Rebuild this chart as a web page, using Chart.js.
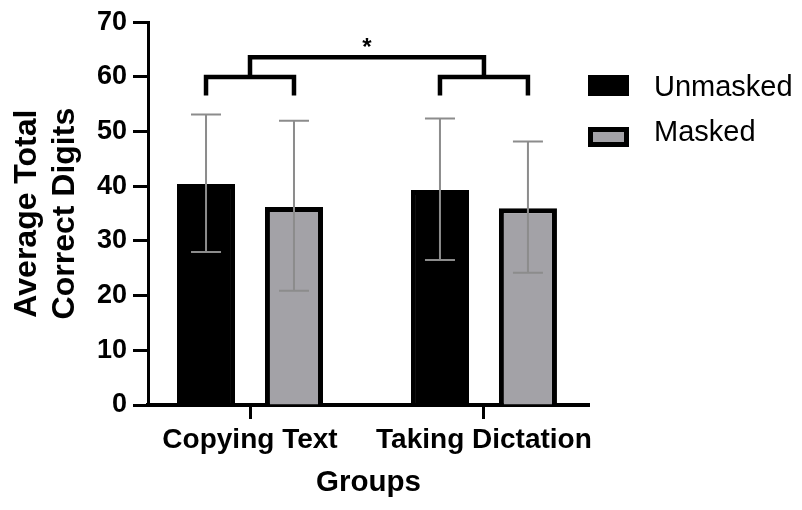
<!DOCTYPE html>
<html lang="en">
<head>
  <meta charset="UTF-8" />
  <title>Average Total Correct Digits</title>
  <script src="https://cdn.jsdelivr.net/npm/chart.js"></script>
  <style>
    body { margin: 0; background: #fff; }
    #wrap { width: 802px; height: 510px; }
  </style>
</head>
<body>
  <div id="wrap"><canvas id="chart" width="802" height="510"></canvas></div>
  <script>
    // data
    const groups = ['Copying Text', 'Taking Dictation'];
    const seriesNames = ['Unmasked', 'Masked'];
    const unmasked = [40.4, 39.3];
    const masked = [36.2, 36.0];
    const unmaskedLow = [28.0, 26.5];
    const unmaskedHigh = [53.1, 52.4];
    const maskedLow = [20.9, 24.2];
    const maskedHigh = [52.0, 48.2];
    const yTicks = [0, 10, 20, 30, 40, 50, 60, 70];

    const FONT = 'Liberation Sans, Arial, sans-serif';
    const GREY = '#a3a2a7';

    const toPoints = vals => vals.map((v, i) => ({ x: i + 1, y: v }));

    // error bars drawn over the bars
    const errorBars = {
      id: 'errorBars',
      afterDatasetsDraw(chart) {
        const ctx = chart.ctx;
        const y = chart.scales.y;
        ctx.save();
        ctx.strokeStyle = '#8c8c8c';
        ctx.lineWidth = 2;
        chart.data.datasets.forEach((ds, di) => {
          chart.getDatasetMeta(di).data.forEach((bar, i) => {
            const lo = y.getPixelForValue(ds.errLow[i]);
            const hi = y.getPixelForValue(ds.errHigh[i]);
            ctx.beginPath();
            ctx.moveTo(bar.x, lo); ctx.lineTo(bar.x, hi);
            ctx.moveTo(bar.x - 15, lo); ctx.lineTo(bar.x + 15, lo);
            ctx.moveTo(bar.x - 15, hi); ctx.lineTo(bar.x + 15, hi);
            ctx.stroke();
          });
        });
        ctx.restore();
      }
    };

    // significance brackets + legend
    const extras = {
      id: 'extras',
      afterDraw(chart) {
        const ctx = chart.ctx;
        const x = chart.scales.x, y = chart.scales.y;
        const a = chart.getDatasetMeta(0).data, b = chart.getDatasetMeta(1).data;
        ctx.save();
        ctx.strokeStyle = '#000';
        ctx.lineWidth = 4.5;
        ctx.lineCap = 'butt';
        ctx.lineJoin = 'miter';
        const yLow = y.getPixelForValue(56.6), yMid = y.getPixelForValue(60), yTop = y.getPixelForValue(63.6);
        for (let i = 0; i < groups.length; i++) {
          ctx.beginPath();
          ctx.moveTo(a[i].x, yLow); ctx.lineTo(a[i].x, yMid);
          ctx.lineTo(b[i].x, yMid); ctx.lineTo(b[i].x, yLow);
          ctx.stroke();
        }
        const g1 = x.getPixelForValue(1), g2 = x.getPixelForValue(2);
        ctx.beginPath();
        ctx.moveTo(g1, yMid); ctx.lineTo(g1, yTop);
        ctx.lineTo(g2, yTop); ctx.lineTo(g2, yMid);
        ctx.stroke();
        ctx.fillStyle = '#000';
        ctx.font = 'bold 24px ' + FONT;
        ctx.textAlign = 'center';
        ctx.textBaseline = 'middle';
        ctx.fillText('*', (g1 + g2) / 2, y.getPixelForValue(64.8) - 2);

        // legend
        const boxes = [[75, 96, 96], [127, 147, 141]];
        ctx.font = '29px ' + FONT;
        ctx.textAlign = 'left';
        ctx.textBaseline = 'alphabetic';
        chart.data.datasets.forEach((ds, di) => {
          const [t, bt, base] = boxes[di];
          ctx.fillStyle = '#000';
          ctx.fillRect(588, t, 41, bt - t);
          if (ds.backgroundColor !== '#000') {
            ctx.fillStyle = ds.backgroundColor;
            ctx.fillRect(593, t + 5, 31, bt - t - 10);
          }
          ctx.fillStyle = '#000';
          ctx.fillText(ds.label, 654, base);
        });
        ctx.restore();
      }
    };

    new Chart(document.getElementById('chart').getContext('2d'), {
      type: 'bar',
      data: {
        datasets: [
          {
            label: seriesNames[0],
            data: toPoints(unmasked),
            errLow: unmaskedLow, errHigh: unmaskedHigh,
            backgroundColor: '#000', borderColor: '#000', borderWidth: 5
          },
          {
            label: seriesNames[1],
            data: toPoints(masked),
            errLow: maskedLow, errHigh: maskedHigh,
            backgroundColor: GREY, borderColor: '#000', borderWidth: 5
          }
        ]
      },
      options: {
        responsive: false,
        animation: false,
        categoryPercentage: 0.752,
        barPercentage: 0.66,
        layout: { padding: { top: 19, right: 213, left: 0, bottom: 0 } },
        plugins: { legend: { display: false }, tooltip: { enabled: false } },
        scales: {
          x: {
            type: 'linear',
            offset: false,
            min: 0.564, max: 2.449,
            afterBuildTicks: s => { s.ticks = groups.map((g, i) => ({ value: i + 1 })); },
            afterFit: s => { s.height = 105; },
            grid: { display: true, offset: false, drawOnChartArea: false, tickLength: 14, tickWidth: 3, color: '#000' },
            border: { display: true, color: '#000', width: 4 },
            ticks: {
              color: '#000', padding: 4, maxRotation: 0, autoSkip: false,
              font: { family: FONT, size: 28, weight: 'bold' },
              callback: v => groups[Math.round(v) - 1]
            },
            title: {
              display: true, text: 'Groups', color: '#000',
              font: { family: FONT, size: 29.5, weight: 'bold', lineHeight: 1.2 },
              padding: { top: 0, bottom: 9 }
            }
          },
          y: {
            min: 0, max: 70,
            afterBuildTicks: s => { s.ticks = yTicks.map(v => ({ value: v })); },
            afterFit: s => { s.width = 148; },
            grid: { display: true, drawOnChartArea: false, tickLength: 15, tickWidth: 3, color: '#000' },
            border: { display: true, color: '#000', width: 3 },
            ticks: {
              color: '#000', padding: 6,
              font: { family: FONT, size: 27, weight: 'bold' }
            },
            title: {
              display: true, text: ['Average Total', 'Correct Digits'], color: '#000',
              font: { family: FONT, size: 32, weight: 'bold', lineHeight: 1.2 },
              padding: { top: 8, bottom: 0 }
            }
          }
        }
      },
      plugins: [errorBars, extras]
    });
  </script>
</body>
</html>
